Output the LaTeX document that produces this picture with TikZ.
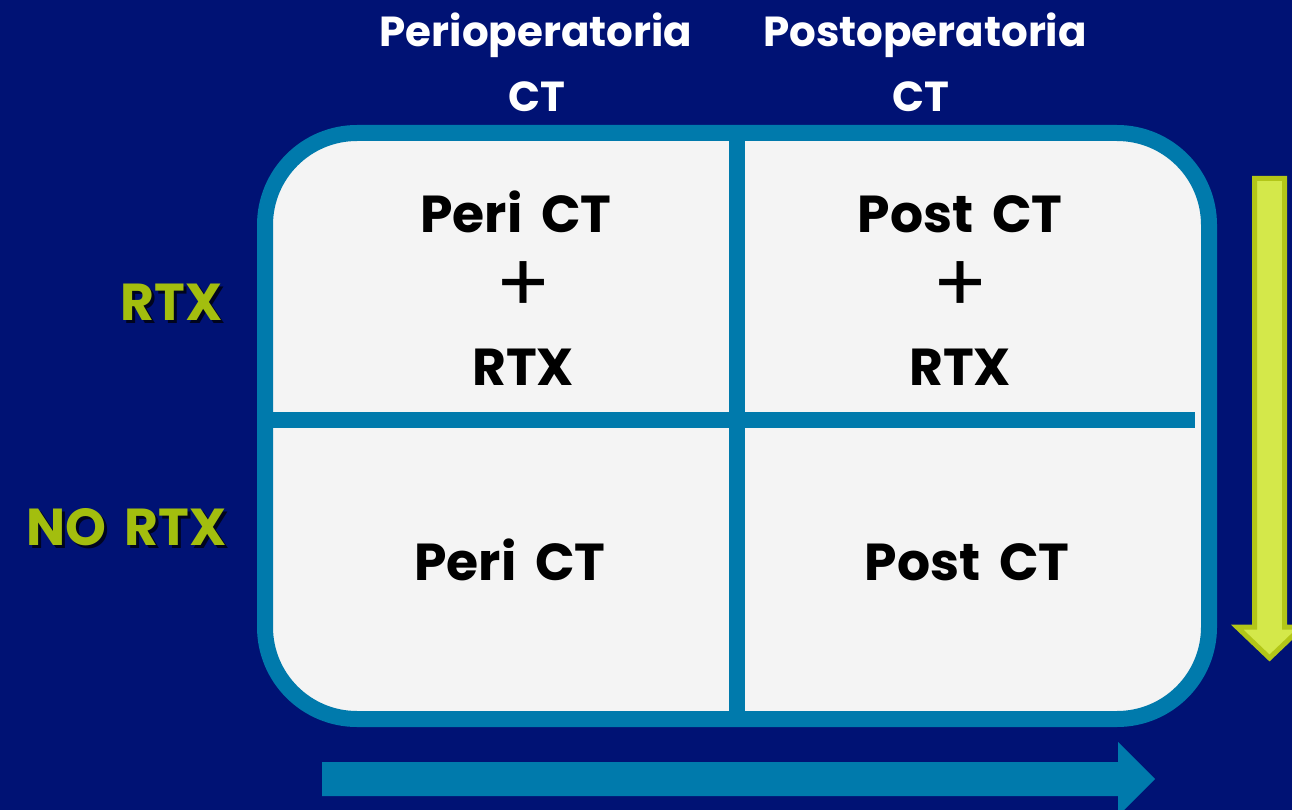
\documentclass[tikz,border=0pt]{standalone}
\usepackage{fontspec}
\setmainfont{Poppins}[BoldFont={* Bold},WordSpace={1.7}]
\definecolor{navy}{RGB}{0,18,116}
\definecolor{teal}{RGB}{0,122,172}
\definecolor{cellfill}{RGB}{244,244,244}
\definecolor{lime}{RGB}{163,190,14}
\definecolor{arrowfill}{RGB}{212,232,74}
\definecolor{arrowedge}{RGB}{179,198,24}
\definecolor{shadowc}{RGB}{0,4,30}
\newcommand{\shadowtext}[1]{\makebox[0pt][l]{\hspace{3pt}\raisebox{-3pt}{\color{shadowc}#1}}#1}
\tikzset{
  celltext/.style={text=black,font=\bfseries\fontsize{52}{60}\selectfont,inner sep=0pt,anchor=base},
  plustext/.style={text=black,font=\fontsize{82}{90}\selectfont,inner sep=0pt,anchor=center},
  headtext/.style={text=white,font=\bfseries\fontsize{42}{50}\selectfont,inner sep=0pt,anchor=base},
  sidetext/.style={text=lime,font=\bfseries\fontsize{52}{60}\selectfont,inner sep=0pt,anchor=base east},
  frame/.style={draw=teal,line width=16pt},
}
\begin{document}
\begin{tikzpicture}[x=1pt,y=-1pt]
\useasboundingbox (0,0) rectangle (1292,810);
\fill[navy] (0,0) rectangle (1292,810);
% grid box
\draw[frame,fill=cellfill,rounded corners=92pt] (265,133) rectangle (1209,719);
\coordinate (vtop) at (737,133);
\coordinate (vbot) at (737,719);
\coordinate (hleft) at (265,420);
\coordinate (hright) at (1195,420);
\draw[teal,line width=16pt] (vtop) -- (vbot);
\draw[teal,line width=16pt] (hleft) -- (hright);
% headers
\node[headtext] (h1) at (536,47) {Perioperatoria};
\node[headtext] (h1b) at (537,112) {CT};
\node[headtext] (h2) at (925,47) {Postoperatoria};
\node[headtext] (h2b) at (921,112) {CT};
% cells
\node[celltext] (c11a) at (516,233) {Peri CT};
\node[plustext] (c11b) at (523,287) {+};
\node[celltext] (c11c) at (523,385) {RTX};
\node[celltext] (c12a) at (960,233) {Post CT};
\node[plustext] (c12b) at (960,287) {+};
\node[celltext] (c12c) at (960,385) {RTX};
\node[celltext] (c21) at (510,580) {Peri CT};
\node[celltext] (c22) at (967,580) {Post CT};
% side labels
\node[sidetext] (s1) at (223,320) {\shadowtext{RTX}};
\node[sidetext] (s2) at (227,545) {\shadowtext{NO RTX}};
% green down arrow
\draw[fill=arrowfill,draw=arrowedge,line width=5pt,line join=miter]
  (1254.5,178.5) -- (1284.5,178.5) -- (1284.5,627) -- (1302,627) -- (1269.5,658)
  -- (1237,627) -- (1254.5,627) -- cycle;
% blue right arrow
\fill[teal] (322,762) -- (1118,762) -- (1118,742) -- (1155,779) -- (1118,816)
  -- (1118,796) -- (322,796) -- cycle;
\end{tikzpicture}
\end{document}
